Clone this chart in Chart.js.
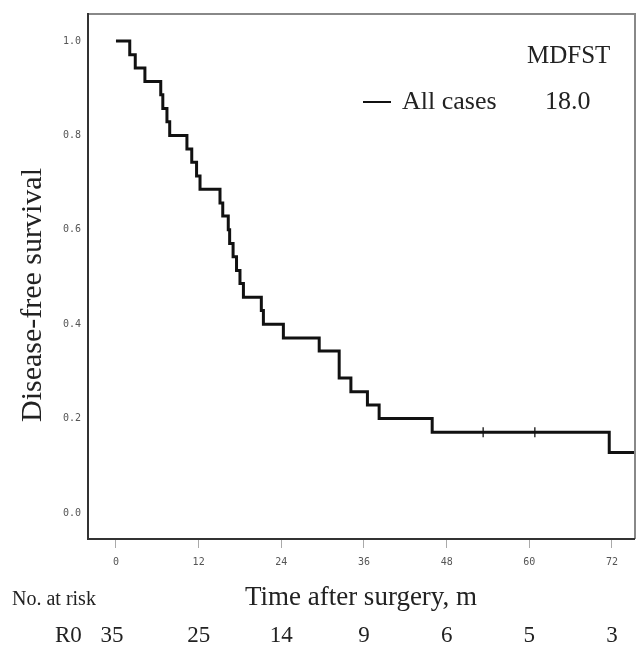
<!DOCTYPE html>
<html>
<head>
<meta charset="utf-8">
<script src="https://cdn.jsdelivr.net/npm/chart.js@4/dist/chart.umd.min.js"></script>
<style>
  html, body { margin: 0; padding: 0; background: #fff; }
  #wrap { width: 636px; height: 646px; position: relative; }
</style>
</head>
<body>
<div id="wrap"><canvas id="grafico-km" width="636" height="646"></canvas></div>
<script>
// Kaplan-Meier curve, all cases (months after surgery)
var tiempos = [0, 2.0, 2.8, 4.2, 6.5, 6.8, 7.4, 7.8, 10.3, 11.0, 11.7, 12.2, 15.1, 15.5, 16.3, 16.5, 17.0, 17.5, 18.0, 18.5, 21.1, 21.4, 24.3, 29.5, 32.4, 34.1, 36.5, 38.2, 45.9, 71.6, 75.3];
var supervivencia = [1.0, 0.971, 0.943, 0.914, 0.886, 0.857, 0.829, 0.800, 0.771, 0.743, 0.714, 0.686, 0.657, 0.629, 0.600, 0.571, 0.543, 0.514, 0.486, 0.457, 0.429, 0.400, 0.371, 0.343, 0.286, 0.257, 0.229, 0.200, 0.171, 0.128, 0.128];
var censuraTiempos = [53.3, 60.8];
var censuraValores = [0.171, 0.171];

var xTicks = [0, 12, 24, 36, 48, 60, 72];
var yTicks = [0.0, 0.2, 0.4, 0.6, 0.8, 1.0];
var riesgoTiempos = [0, 12, 24, 36, 48, 60, 72];
var riesgoNumeros = [35, 25, 14, 9, 6, 5, 3];

var puntosCurva = [];
for (var i = 0; i < tiempos.length; i++) {
    puntosCurva.push({ x: tiempos[i], y: supervivencia[i] });
}
var puntosCensura = [];
for (var j = 0; j < censuraTiempos.length; j++) {
    puntosCensura.push({ x: censuraTiempos[j], y: censuraValores[j] });
}

var serif = '"Liberation Serif", "Times New Roman", serif';

var textosExtra = {
    id: 'textosExtra',
    afterDraw: function (chart) {
        var ctx = chart.ctx;
        var a = chart.chartArea;
        var xs = chart.scales.x;
        ctx.save();

        // frame
        ctx.lineWidth = 2;
        ctx.strokeStyle = '#888';
        ctx.beginPath();
        ctx.moveTo(a.left, a.top);
        ctx.lineTo(a.right, a.top);
        ctx.lineTo(a.right, a.bottom);
        ctx.stroke();
        ctx.strokeStyle = '#333';
        ctx.beginPath();
        ctx.moveTo(a.left, a.top - 1);
        ctx.lineTo(a.left, a.bottom);
        ctx.lineTo(a.right, a.bottom);
        ctx.stroke();

        ctx.fillStyle = '#222';
        ctx.textBaseline = 'alphabetic';

        // legend
        ctx.font = '25px ' + serif;
        ctx.textAlign = 'left';
        ctx.fillText('MDFST', 527, 63);
        ctx.strokeStyle = '#111';
        ctx.lineWidth = 2;
        ctx.beginPath();
        ctx.moveTo(363, 102);
        ctx.lineTo(391, 102);
        ctx.stroke();
        ctx.font = '26px ' + serif;
        ctx.fillText('All cases', 402, 109);
        ctx.fillText('18.0', 545, 109);

        // y title
        ctx.save();
        ctx.translate(41, 295);
        ctx.rotate(-Math.PI / 2);
        ctx.textAlign = 'center';
        ctx.font = '30px ' + serif;
        ctx.fillText('Disease-free survival', 0, 0);
        ctx.restore();

        // x title
        ctx.textAlign = 'center';
        ctx.font = '27px ' + serif;
        ctx.fillText('Time after surgery, m', 361, 605);

        ctx.textAlign = 'left';
        ctx.font = '20px ' + serif;
        ctx.fillText('No. at risk', 12, 605);

        // number at risk row
        ctx.font = '23px ' + serif;
        ctx.fillText('R0', 55, 642);
        ctx.textAlign = 'center';
        for (var k = 0; k < riesgoTiempos.length; k++) {
            var px = xs.getPixelForValue(riesgoTiempos[k]);
            if (k === 0) px -= 4;
            ctx.fillText(String(riesgoNumeros[k]), px, 642);
        }
        ctx.restore();
    }
};

const ctx = document.getElementById('grafico-km');
var myChart = new Chart(ctx, {
    type: 'line',
    data: {
        datasets: [{
            label: 'All cases',
            data: puntosCurva,
            stepped: true,
            borderColor: '#111',
            borderWidth: 3,
            borderJoinStyle: 'miter',
            borderCapStyle: 'butt',
            pointRadius: 0,
            fill: false
        }, {
            type: 'scatter',
            label: 'censored',
            data: puntosCensura,
            showLine: false,
            pointStyle: 'line',
            rotation: 90,
            pointRadius: 5,
            borderColor: '#333',
            borderWidth: 1.5
        }]
    },
    options: {
        responsive: false,
        animation: false,
        devicePixelRatio: 1,
        layout: { autoPadding: false, padding: { top: 14, right: 1, left: 0, bottom: 0 } },
        plugins: {
            legend: { display: false },
            tooltip: { enabled: false }
        },
        scales: {
            x: {
                type: 'linear',
                min: -4.06,
                max: 75.34,
                afterBuildTicks: function (scale) {
                    scale.ticks = xTicks.map(function (v) { return { value: v }; });
                },
                afterFit: function (scale) {
                    scale.height = 107;
                    scale.paddingLeft = 0;
                    scale.paddingRight = 0;
                },
                border: { display: false },
                grid: {
                    drawOnChartArea: false,
                    drawTicks: true,
                    tickLength: 9,
                    tickColor: '#aaa',
                    tickWidth: 1
                },
                ticks: {
                    padding: 8,
                    color: '#555',
                    maxRotation: 0,
                    font: { family: '"DejaVu Sans Mono", monospace', size: 10 },
                    callback: function (v) { return String(v); }
                }
            },
            y: {
                type: 'linear',
                min: -0.0551,
                max: 1.0572,
                afterBuildTicks: function (scale) {
                    scale.ticks = yTicks.map(function (v) { return { value: v }; });
                },
                afterFit: function (scale) {
                    scale.width = 88;
                    scale.paddingTop = 0;
                    scale.paddingBottom = 0;
                },
                border: { display: false },
                grid: { display: false, drawTicks: false },
                ticks: {
                    padding: 7,
                    color: '#555',
                    font: { family: '"DejaVu Sans Mono", monospace', size: 10 },
                    callback: function (v) { return Number(v).toFixed(1); }
                }
            }
        }
    },
    plugins: [textosExtra]
});
</script>
</body>
</html>
